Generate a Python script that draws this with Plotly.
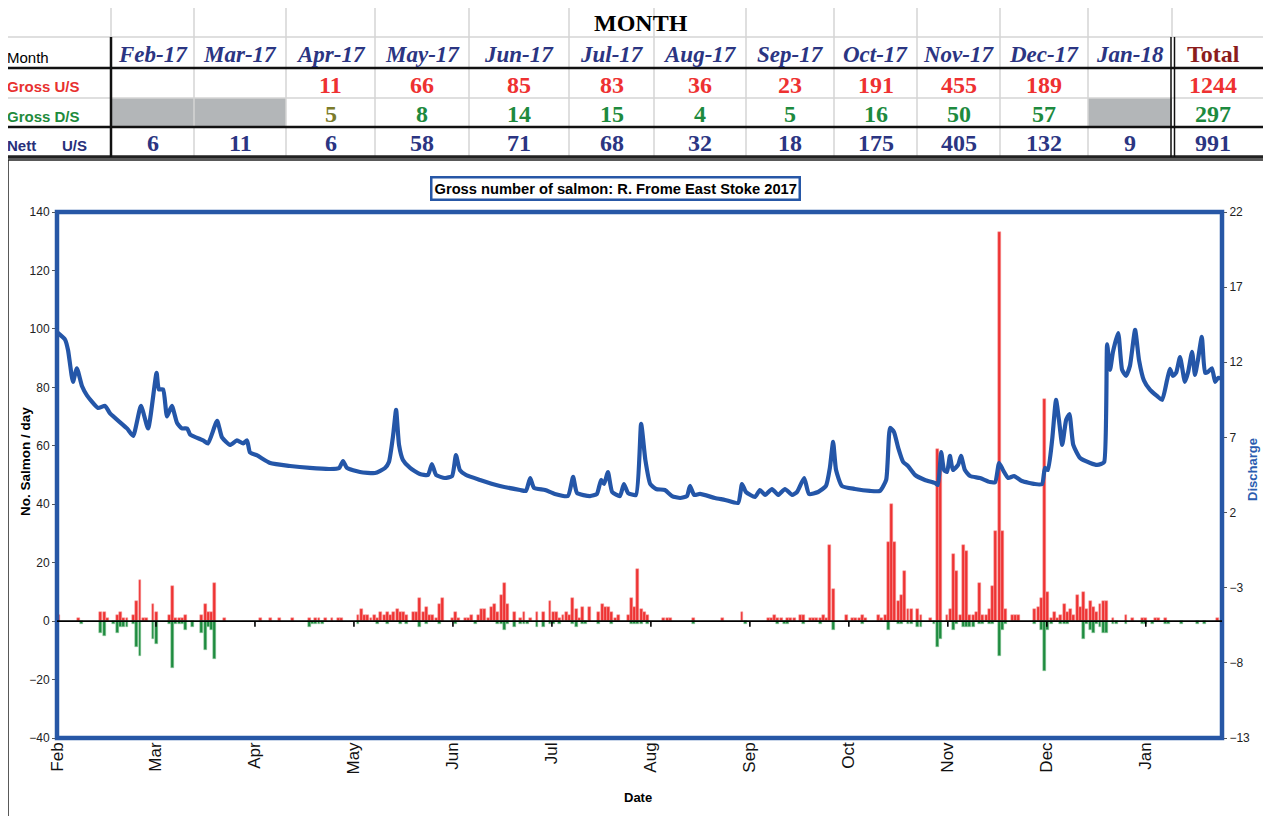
import plotly.graph_objects as go

# ---------------- DATA ----------------
months_tbl = ["Feb-17", "Mar-17", "Apr-17", "May-17", "Jun-17", "Jul-17", "Aug-17",
              "Sep-17", "Oct-17", "Nov-17", "Dec-17", "Jan-18"]
gross_us_month = [None, None, 11, 66, 85, 83, 36, 23, 191, 455, 189, None]
gross_ds_month = [None, None, 5, 8, 14, 15, 4, 5, 16, 50, 57, None]
nett_us_month = [6, 11, 6, 58, 71, 68, 32, 18, 175, 405, 132, 9]
total_us, total_ds, total_nett = 1244, 297, 991

axis_months = ["Feb", "Mar", "Apr", "May", "Jun", "Jul", "Aug", "Sep", "Oct", "Nov", "Dec", "Jan"]

# daily gross upstream counts (day 0 = 1 Feb 2017)
gross_us = [
    2, 0, 0, 0, 0, 0, 1, 0, 0, 0,   0, 0, 0, 3, 3, 1, 0, 0, 2, 3,
    1, 1, 0, 2, 7, 14, 1, 1, 0, 6,  3, 0, 0, 0, 2, 12, 1, 1, 1, 2,
    0, 0, 0, 0, 2, 6, 3, 3, 13, 0,  0, 1, 0, 0, 0, 0, 0, 0, 0, 0,
    0, 0, 1, 0, 0, 1, 0, 0, 1, 0,   0, 0, 1, 0, 0, 0, 0, 1, 0, 1,
    1, 0, 1, 0, 1, 0, 1, 1, 0, 0,   0, 0, 2, 4, 2, 2, 1, 2, 1, 3,
    2, 3, 2, 3, 4, 3, 3, 2, 0, 3,   3, 8, 3, 5, 2, 2, 1, 6, 8, 0,
    0, 1, 3, 1, 0, 1, 1, 2, 0, 2,   4, 4, 1, 5, 6, 3, 9, 13, 6, 0,
    3, 0, 1, 3, 0, 1, 0, 3, 0, 3,   0, 7, 3, 3, 1, 2, 3, 2, 8, 4,
    1, 5, 0, 5, 0, 0, 3, 6, 5, 5,   3, 1, 2, 0, 0, 2, 8, 5, 18, 4,
    3, 2, 0, 0, 0, 0, 1, 1, 1, 0,   0, 0, 0, 0, 0, 1, 0, 0, 0, 0,
    0, 0, 0, 0, 1, 0, 0, 0, 0, 0,   3, 0, 0, 0, 0, 0, 0, 0, 1, 1,
    2, 1, 1, 0, 1, 1, 1, 0, 2, 2,   0, 1, 1, 1, 1, 2, 1, 26, 11, 0,
    0, 0, 2, 0, 1, 1, 1, 2, 1, 0,   0, 0, 2, 1, 2, 27, 40, 27, 7, 9,
    17, 4, 4, 0, 4, 2, 0, 0, 1, 0,  59, 55, 0, 2, 4, 23, 17, 2, 26, 24,
    2, 2, 3, 13, 2, 2, 4, 12, 31, 133, 31, 4, 0, 2, 2, 2, 0, 0, 0, 0,
    4, 5, 8, 76, 10, 1, 3, 1, 2, 6, 3, 4, 2, 9, 5, 10, 4, 7, 5, 3,
    6, 7, 7, 0, 1, 0, 0, 0, 2, 0,   1, 0, 0, 1, 1, 0, 0, 1, 1, 0,
    1, 0, 0, 0, 0, 0, 0, 0, 0, 0,   0, 0, 0, 0, 0, 0, 1, 0,
]

# daily gross downstream counts (plotted below zero)
gross_ds = [
    0, 0, 0, 0, 0, 0, 0, 1, 0, 0,   0, 0, 0, 4, 5, 0, 0, 1, 4, 2,
    2, 2, 0, 1, 9, 12, 0, 0, 0, 6,  8, 0, 0, 0, 1, 16, 1, 1, 1, 3,
    0, 2, 0, 0, 4, 10, 2, 3, 13, 0, 0, 0, 0, 0, 0, 0, 0, 0, 0, 0,
    0, 0, 0, 0, 0, 0, 0, 0, 0, 0,   0, 0, 0, 0, 0, 0, 0, 2, 1, 1,
    1, 1, 0, 0, 0, 0, 0, 0, 0, 0,   0, 0, 1, 0, 0, 0, 0, 0, 1, 0,
    0, 1, 0, 0, 0, 1, 0, 1, 0, 0,   0, 2, 0, 1, 0, 0, 0, 1, 0, 0,
    0, 0, 1, 0, 0, 0, 0, 0, 1, 0,   0, 0, 0, 0, 0, 1, 1, 3, 1, 0,
    2, 0, 1, 1, 1, 0, 0, 2, 0, 2,   0, 1, 1, 0, 1, 0, 0, 0, 1, 2,
    0, 1, 1, 0, 0, 0, 1, 0, 0, 0,   1, 0, 0, 0, 0, 0, 1, 1, 1, 1,
    0, 1, 0, 0, 0, 0, 0, 0, 0, 0,   0, 0, 0, 0, 0, 1, 0, 0, 0, 0,
    0, 0, 0, 0, 0, 0, 0, 0, 0, 0,   0, 1, 0, 0, 0, 0, 0, 0, 0, 0,
    0, 1, 0, 1, 1, 0, 0, 0, 0, 1,   0, 0, 0, 0, 1, 0, 0, 0, 3, 0,
    0, 0, 0, 0, 0, 0, 0, 1, 0, 0,   0, 0, 0, 0, 0, 3, 0, 0, 1, 1,
    0, 1, 1, 0, 2, 2, 0, 0, 0, 1,   9, 6, 0, 0, 0, 3, 1, 0, 2, 2,
    2, 2, 0, 1, 1, 0, 1, 1, 0, 12,  3, 1, 0, 0, 0, 0, 0, 0, 0, 0,
    1, 0, 3, 17, 3, 1, 0, 0, 1, 1,  1, 0, 0, 0, 0, 6, 1, 3, 4, 1,
    2, 4, 4, 0, 1, 1, 0, 0, 1, 0,   0, 0, 0, 1, 1, 0, 1, 0, 0, 0,
    1, 1, 0, 0, 0, 1, 0, 0, 0, 0,   1, 0, 1, 0, 0, 0, 0, 0,
]

# river discharge (day offset from 1 Feb 2017, value)
dis_day = [0, 2.5, 3.4, 4.9, 6.1, 7.7, 9.2, 12.6, 14.75, 16.3, 21.5, 23.4, 25.8, 28.0,
           30.6, 31.3, 32.6, 33.8, 35.3, 36.9, 38.4, 40.0, 40.9, 44.9, 46.4, 49.2, 50.7,
           53.2, 55.3, 57.2, 58.4, 59.3, 61.5, 65.5, 71.6, 77.7, 83.9, 86.7, 87.9, 89.1,
           93.1, 97.7, 100.8, 102.0, 103.3, 104.2, 105.1, 106.3, 108.5, 111.5, 114.0,
           115.2, 116.5, 119.2, 121.4, 122.6, 123.8, 125.7, 130.0, 136.1, 142.3, 144.1,
           145.4, 146.6, 150.0, 153.0, 157.0, 158.6, 159.8, 163.8, 165.9, 167.2, 168.1,
           169.3, 170.6, 173.0, 174.2, 175.5, 177.9, 179.5, 180.8, 182.3, 184.1, 186.8,
           189.0, 191.5, 193.6, 194.5, 195.8, 197.6, 202.2, 205.3, 209.3, 210.5, 211.7,
           214.5, 216.0, 217.6, 219.7, 221.6, 223.7, 225.9, 227.4, 229.6, 231.1, 233.9,
           236.3, 237.5, 238.5, 239.4, 241.2, 245.2, 249.8, 252.9, 254.8, 256.0, 257.2,
           258.5, 260.0, 261.5, 263.7, 266.7, 269.8, 270.7, 271.7, 272.6, 273.5, 274.4,
           275.3, 276.9, 277.8, 279.0, 280.6, 283.6, 286.7, 288.3, 289.5, 290.7, 292.3,
           294.1, 296.5, 300.5, 302.7, 303.6, 304.5, 305.8, 307.0, 307.9, 308.9, 310.1,
           311.1, 312.3, 314.4, 317.5, 319.6, 320.8, 321.8, 322.7, 323.6, 324.5, 326.1,
           327.3, 328.5, 329.7, 331.3, 332.5, 334.0, 335.9, 338.0, 339.6, 341.1, 342.0,
           342.9, 343.9, 345.1, 346.6, 347.6, 348.8, 349.7, 350.6, 351.8, 352.8, 353.7,
           354.9, 355.9, 356.8, 358.0]
dis_val = [14.0, 13.5, 12.8, 10.7, 11.6, 10.4, 9.8, 8.96, 9.1, 8.6, 7.6, 7.1, 9.1, 7.6,
           11.3, 10.2, 10.2, 8.4, 9.1, 7.96, 7.6, 7.6, 7.2, 6.8, 6.6, 8.1, 7.0,
           6.5, 6.8, 6.6, 6.8, 6.0, 5.8, 5.3, 5.1, 4.97, 4.9, 4.97, 5.43, 4.97,
           4.7, 4.63, 4.97, 5.37, 7.16, 8.83, 6.5, 5.5, 4.97, 4.57, 4.5,
           5.23, 4.5, 4.3, 4.43, 5.83, 4.83, 4.5, 4.17, 3.77, 3.5, 3.44,
           4.3, 3.64, 3.5, 3.24, 3.1, 4.37, 3.3, 3.1, 3.24, 4.17, 3.9,
           4.7, 3.37, 3.1, 3.9, 3.3, 3.17, 7.9, 5.5, 3.9, 3.57, 3.5,
           3.1, 2.97, 3.1, 3.77, 3.17, 3.24, 2.97, 2.84, 2.64, 3.9, 3.37,
           3.04, 3.5, 3.17, 3.57, 3.17, 3.57, 3.17, 3.37, 4.3, 3.24, 3.37,
           3.77, 4.97, 6.7, 4.83, 3.77, 3.57, 3.44, 3.44, 4.17, 7.63, 7.36,
           6.3, 5.37, 5.1, 4.5, 4.17, 3.97, 3.84, 6.03, 4.83, 4.7, 5.77,
           4.83, 5.17, 5.77, 4.83, 4.43, 4.3, 4.03, 4.03, 5.3, 4.83, 4.3,
           4.43, 4.1, 3.9, 3.9, 4.97, 4.83, 6.83, 9.5, 8.16, 6.5, 8.16,
           8.56, 6.5, 5.63, 5.3, 5.17, 5.23, 5.37, 13.2, 11.5, 12.7, 13.95,
           11.5, 11.1, 11.76, 14.15, 12.15, 10.8, 10.16, 9.76, 9.5, 10.8, 11.56,
           11.1, 11.3, 12.35, 10.7, 11.36, 12.7, 11.16, 12.15, 13.7, 11.3, 11.36,
           11.6, 10.7, 10.96, 10.9]

N_DAYS = len(gross_us)

# ---------------- LAYOUT HELPERS ----------------
# the page body has an 8px margin, so the figure is drawn 8px in from the top-left
PAGE_W, PAGE_H, OFF = 1271, 816, 8
W, H = PAGE_W - OFF, PAGE_H - OFF
L, R, T, B = 57, 1222, 212, 738   # plot area in page pixels


def px(x):
    return (x - L) / (R - L)


def py(y):
    return (B - y) / (B - T)


SANS = "Liberation Sans, Arial, sans-serif"
SERIF = "Liberation Serif, Times New Roman, serif"
BLUE = "#2757A6"
RED = "#EE3333"
GREEN = "#1E8B3F"
NAVY = "#2B3582"

fig = go.Figure()

xs = [d + 0.5 for d in range(N_DAYS)]
fig.add_trace(go.Bar(x=xs, y=[v if v else None for v in gross_us], width=0.9,
                     marker=dict(color=RED, line=dict(color="#F6A3A3", width=0.5)),
                     name="Gross U/S", showlegend=False))
fig.add_trace(go.Bar(x=xs, y=[-v if v else None for v in gross_ds], width=0.9,
                     marker=dict(color=GREEN, line=dict(color="#9AD0A6", width=0.5)),
                     name="Gross D/S", showlegend=False))
fig.add_trace(go.Scatter(x=dis_day, y=dis_val, yaxis="y2", mode="lines",
                         line=dict(color="#2456A8", width=4.2, shape="spline", smoothing=0.5),
                         name="Discharge", showlegend=False))

tickvals = [k * 365 / 12 for k in range(len(axis_months))]

shapes = []
annotations = []


def hline(x0, x1, y, color, w):
    shapes.append(dict(type="line", xref="paper", yref="paper", x0=px(x0), x1=px(x1),
                       y0=py(y), y1=py(y), line=dict(color=color, width=w)))


def vline(x, y0, y1, color, w):
    shapes.append(dict(type="line", xref="paper", yref="paper", x0=px(x), x1=px(x),
                       y0=py(y0), y1=py(y1), line=dict(color=color, width=w)))


def text(x, y, s, size, color, family=SANS, xanchor="center", angle=0):
    annotations.append(dict(xref="paper", yref="paper", x=px(x), y=py(y), text=s,
                            showarrow=False, xanchor=xanchor, yanchor="middle",
                            textangle=angle, font=dict(family=family, size=size, color=color)))


# ---------------- TABLE ----------------
col_edges = [111, 194, 286, 375, 469, 569, 654, 746, 834, 917, 1000, 1088, 1172]
GRAY = "#D4D4D4"
for x0, x1 in [(col_edges[0], col_edges[2]), (col_edges[11], col_edges[12])]:
    shapes.append(dict(type="rect", xref="paper", yref="paper", x0=px(x0), x1=px(x1),
                       y0=py(127), y1=py(98), fillcolor="#B3B6B8", line=dict(width=0),
                       layer="below"))
hline(0, 1271, 7, GRAY, 1.5)
hline(0, 1271, 37, GRAY, 1.5)
hline(0, 1271, 98, GRAY, 1.5)
for xe in col_edges[1:-1]:
    vline(xe, 7, 157, GRAY, 1.5)
vline(111, 7, 37, GRAY, 1.5)
vline(1172, 7, 37, GRAY, 1.5)
hline(0, 1271, 68, "#111111", 2.5)
hline(0, 1271, 127, "#111111", 2.5)
hline(0, 1271, 157, "#222222", 3.5)
vline(111, 37, 157, "#111111", 2.5)
vline(1171, 37, 157, "#111111", 1.5)
vline(1174.5, 37, 157, "#111111", 1.5)

TF = 24
text(641, 23, "<b>MONTH</b>", 24, "#000000", SERIF)
text(5, 57, "Month", 15, "#000000", SANS, "left")
text(5, 86, "<b>Gross U/S</b>", 15, "#E8312F", SANS, "left")
text(5, 116, "<b>Gross D/S</b>", 15, "#1E8B3C", SANS, "left")
text(5, 146, "<b>Nett</b>", 15, "#28307A", SANS, "left")
text(60, 146, "<b>U/S</b>", 15, "#28307A", SANS, "left")

for i, m in enumerate(months_tbl):
    cx = (col_edges[i] + col_edges[i + 1]) / 2
    text(cx, 54, "<b><i>%s</i></b>" % m, 23, NAVY, SERIF)
    if gross_us_month[i] is not None:
        text(cx, 85, "<b>%d</b>" % gross_us_month[i], TF, "#EE3131", SERIF)
    if gross_ds_month[i] is not None:
        col = "#7B7B2A" if i == 2 else "#1D8A3E"
        text(cx, 114, "<b>%d</b>" % gross_ds_month[i], TF, col, SERIF)
    text(cx, 143, "<b>%d</b>" % nett_us_month[i], TF, NAVY, SERIF)

text(1213, 54, "<b>Total</b>", TF, "#8B1C1C", SERIF)
text(1213, 85, "<b>%d</b>" % total_us, TF, "#EE3131", SERIF)
text(1213, 114, "<b>%d</b>" % total_ds, TF, "#1D8A3E", SERIF)
text(1213, 143, "<b>%d</b>" % total_nett, TF, NAVY, SERIF)

# ---------------- CHART FRAME ----------------
hline(8, 1266, 160, "#222222", 1.5)
vline(8, 160, 816, "#222222", 1.5)
vline(1266, 160, 816, "#222222", 1.5)
yy = 178.0
while yy < 816:
    hline(0, 7, yy, "#BBBBBB", 1)
    hline(1267, 1271, yy, "#BBBBBB", 1)
    yy += 16.7

shapes.append(dict(type="rect", xref="paper", yref="paper", x0=0, x1=1, y0=0, y1=1,
                   line=dict(color=BLUE, width=4.5), layer="above"))
shapes.append(dict(type="line", xref="paper", yref="y", x0=0, x1=1, y0=0, y1=0,
                   line=dict(color="#000000", width=1.8), layer="above"))
for tv in tickvals[1:]:
    shapes.append(dict(type="line", xref="x", yref="y", x0=tv, x1=tv, y0=0, y1=-1.9,
                       line=dict(color="#000000", width=1.6), layer="above"))

annotations.append(dict(xref="paper", yref="paper", x=px(615), y=py(188),
                        text="<b>Gross number of salmon: R. Frome East Stoke 2017</b>",
                        showarrow=False, xanchor="center", yanchor="middle",
                        font=dict(family=SANS, size=14.7, color="#000000"),
                        bordercolor=BLUE, borderwidth=2.5, borderpad=2, bgcolor="white"))
text(25, 462, "<b>No. Salmon / day</b>", 13.5, "#000000", SANS, angle=-90)
text(1252, 470, "<b>Discharge</b>", 13, "#2A5CB0", SANS, angle=-90)
text(638, 797, "<b>Date</b>", 13, "#000000", SANS)

fig.update_layout(
    width=W, height=H, autosize=False,
    margin=dict(l=L - OFF, r=W - (R - OFF), t=T - OFF, b=H - (B - OFF), pad=0),
    paper_bgcolor="white", plot_bgcolor="white",
    barmode="overlay", bargap=0,
    shapes=shapes, annotations=annotations,
    xaxis=dict(range=[0, 358], tickmode="array", tickvals=tickvals, ticktext=axis_months,
               tickangle=-90, ticks="", showgrid=False, zeroline=False, showline=False,
               tickfont=dict(family=SANS, size=17, color="#111111")),
    yaxis=dict(range=[-40, 140], tick0=0, dtick=20, ticks="outside", ticklen=4,
               tickcolor="#555555", showgrid=False, zeroline=False, showline=False,
               tickfont=dict(family=SANS, size=12, color="#222222")),
    yaxis2=dict(range=[-13, 22], tick0=-13, dtick=5, overlaying="y", side="right",
                ticks="outside", ticklen=4, tickcolor="#555555", showgrid=False,
                zeroline=False, showline=False,
                tickfont=dict(family=SANS, size=12, color="#222222")),
)

fig.write_html("out.html")
